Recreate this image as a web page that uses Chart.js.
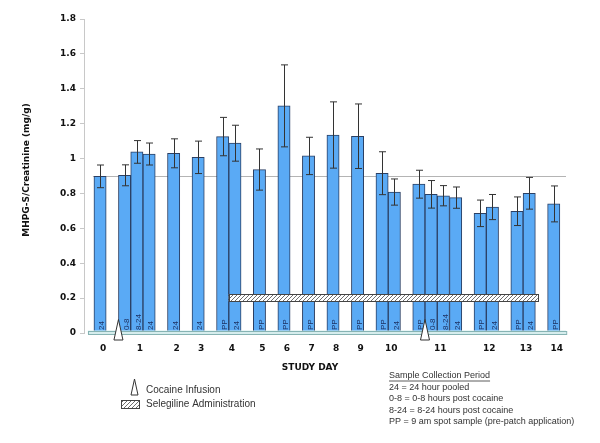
<!DOCTYPE html>
<html>
<head>
<meta charset="utf-8">
<script src="https://cdn.jsdelivr.net/npm/chart.js@4.4.1/dist/chart.umd.min.js"></script>
<style>
	html, body { margin: 0; padding: 0; background: #fff; }
</style>
</head>
<body>
<canvas id="chart" width="600" height="443"></canvas>
<script>
// one entry per bar, in plotting order
const studyDays = [0, 1, 1, 1, 2, 3, 4, 4, 5, 6, 7, 8, 9, 10, 10, 11, 11, 11, 11, 12, 12, 13, 13, 14]
const samples = ["24", "0-8", "8-24", "24", "24", "24", "PP", "24", "PP", "PP", "PP", "PP", "PP", "PP", "24", "PP", "0-8", "8-24", "24", "PP", "24", "PP", "24", "PP"]
const means = [0.898, 0.904, 1.038, 1.026, 1.030, 1.007, 1.126, 1.088, 0.937, 1.302, 1.015, 1.135, 1.128, 0.916, 0.808, 0.853, 0.795, 0.787, 0.776, 0.686, 0.722, 0.698, 0.801, 0.740]
const errors = [0.065, 0.060, 0.065, 0.063, 0.083, 0.093, 0.110, 0.103, 0.118, 0.235, 0.107, 0.190, 0.185, 0.123, 0.075, 0.080, 0.079, 0.058, 0.061, 0.076, 0.072, 0.082, 0.091, 0.103]
const dayLabels = ["0", "1", "2", "3", "4", "5", "6", "7", "8", "9", "10", "11", "12", "13", "14"]
const yTicks = [0, 0.2, 0.4, 0.6, 0.8, 1, 1.2, 1.4, 1.6, 1.8]
const selegilineDays = [4, 13]
const selegilineLevel = [0.182, 0.222]
const sampleNotes = [
	"24 = 24 hour pooled",
	"0-8 = 0-8 hours post cocaine",
	"8-24 = 8-24 hours post cocaine",
	"PP = 9 am spot sample (pre-patch application)",
]

// bars sit side by side within a day, one empty slot between days
const slots = []
studyDays.forEach((d, i) => {
	if (i === 0) slots.push(0)
	else slots.push(slots[i - 1] + (d === studyDays[i - 1] ? 1 : 2))
})
const dayTicks = dayLabels.map((lab) => {
	const s = slots.filter((_, i) => studyDays[i] === +lab)
	return s.reduce((a, b) => a + b, 0) / s.length
})
const infusions = slots.filter((_, i) => samples[i] === "0-8").map((s) => s - 0.5)
const selStart = slots.find((_, i) => studyDays[i] === selegilineDays[0] && samples[i] !== "PP") - 0.5
const selEnd = Math.max(...slots.filter((_, i) => studyDays[i] === selegilineDays[1])) + 0.7

const hatch = (ctx) => {
	const pc = document.createElement("canvas")
	pc.width = 4
	pc.height = 4
	const p = pc.getContext("2d")
	p.fillStyle = "#fff"
	p.fillRect(0, 0, 4, 4)
	p.strokeStyle = "#6f6f6f"
	p.lineWidth = 1
	p.beginPath()
	p.moveTo(0, 4); p.lineTo(4, 0)
	p.moveTo(-1, 1); p.lineTo(1, -1)
	p.moveTo(3, 5); p.lineTo(5, 3)
	p.stroke()
	return ctx.createPattern(pc, "repeat")
}

const triangle = (ctx, cx, top, bottom, half) => {
	ctx.beginPath()
	ctx.moveTo(cx, top)
	ctx.lineTo(cx + half, bottom)
	ctx.lineTo(cx - half, bottom)
	ctx.closePath()
	ctx.fillStyle = "#fff"
	ctx.fill()
	ctx.strokeStyle = "#333"
	ctx.lineWidth = 1
	ctx.stroke()
}

const decor = {
	id: "decor",
	beforeDatasetsDraw(chart) {
		const { ctx, scales: { x, y }, chartArea } = chart
		const yy = Math.round(y.getPixelForValue(means[0])) + 0.5
		ctx.save()
		ctx.strokeStyle = "#b4b4b4"
		ctx.lineWidth = 1
		ctx.beginPath()
		ctx.moveTo(x.getPixelForValue(-0.5) - 1, yy)
		ctx.lineTo(chartArea.right, yy)
		ctx.stroke()
		ctx.restore()
	},
	afterDatasetsDraw(chart) {
		const { ctx, scales: { x, y }, chartArea } = chart
		const y0 = y.getPixelForValue(0)
		ctx.save()

		// error bars
		ctx.strokeStyle = "#333"
		ctx.lineWidth = 1
		slots.forEach((s, i) => {
			const cx = Math.round(x.getPixelForValue(s)) + 0.5
			const hi = y.getPixelForValue(means[i] + errors[i])
			const lo = y.getPixelForValue(means[i] - errors[i])
			ctx.beginPath()
			ctx.moveTo(cx, hi); ctx.lineTo(cx, lo)
			ctx.moveTo(cx - 3.5, hi); ctx.lineTo(cx + 3.5, hi)
			ctx.moveTo(cx - 3.5, lo); ctx.lineTo(cx + 3.5, lo)
			ctx.stroke()
		})

		// sample labels inside bars
		ctx.fillStyle = "#1d3263"
		ctx.font = "8px 'Liberation Sans', Arial, sans-serif"
		ctx.textAlign = "left"
		ctx.textBaseline = "middle"
		slots.forEach((s, i) => {
			ctx.save()
			ctx.translate(x.getPixelForValue(s) + 2, y0 - 3)
			ctx.rotate(-Math.PI / 2)
			ctx.fillText(samples[i], 0, 0)
			ctx.restore()
		})

		// floor band
		const bl = x.getPixelForValue(-1)
		ctx.fillStyle = "#d6eded"
		ctx.fillRect(bl, y0 - 2.5, chartArea.right - bl, 3.5)
		ctx.strokeStyle = "#86b3b3"
		ctx.strokeRect(Math.round(bl) + 0.5, Math.round(y0 - 2.5) + 0.5, chartArea.right - bl, 3)

		// selegiline administration
		const sx1 = x.getPixelForValue(selStart)
		const sx2 = x.getPixelForValue(selEnd)
		const sy1 = y.getPixelForValue(selegilineLevel[1])
		const sy2 = y.getPixelForValue(selegilineLevel[0])
		ctx.fillStyle = hatch(ctx)
		ctx.fillRect(sx1, sy1, sx2 - sx1, sy2 - sy1)
		ctx.strokeStyle = "#444"
		ctx.strokeRect(Math.round(sx1) + 0.5, Math.round(sy1) + 0.5, Math.round(sx2 - sx1), Math.round(sy2 - sy1))

		// cocaine infusions
		infusions.forEach((s) => {
			triangle(ctx, x.getPixelForValue(s), y0 - 13.5, y0 + 7, 4.5)
		})
		ctx.restore()
	},
	afterDraw(chart) {
		const { ctx } = chart
		ctx.save()
		ctx.fillStyle = "#111"
		ctx.font = "bold 9px 'DejaVu Sans', Verdana, sans-serif"
		ctx.textAlign = "center"
		ctx.textBaseline = "middle"
		ctx.fillText("STUDY DAY", 310, 368)
		ctx.save()
		ctx.translate(27, 170)
		ctx.rotate(-Math.PI / 2)
		ctx.fillText("MHPG-S/Creatinine (mg/g)", 0, 0)
		ctx.restore()

		// legend
		triangle(ctx, 134.5, 379, 395, 3.5)
		ctx.fillStyle = hatch(ctx)
		ctx.fillRect(121, 400, 18, 8)
		ctx.strokeStyle = "#444"
		ctx.strokeRect(121.5, 400.5, 18, 8)
		ctx.fillStyle = "#333"
		ctx.font = "10px 'Liberation Sans', Arial, sans-serif"
		ctx.textAlign = "left"
		ctx.fillText("Cocaine Infusion", 146, 390)
		ctx.fillText("Selegiline Administration", 146, 404.5)

		// sample notes
		ctx.font = "9px 'Liberation Sans', Arial, sans-serif"
		const head = "Sample Collection Period"
		ctx.fillText(head, 389, 376)
		const w = ctx.measureText(head).width
		ctx.strokeStyle = "#333"
		ctx.lineWidth = 0.8
		ctx.beginPath()
		ctx.moveTo(389, 381)
		ctx.lineTo(389 + w, 381)
		ctx.stroke()
		sampleNotes.forEach((t, i) => ctx.fillText(t, 389, 387.5 + i * 11.3))
		ctx.restore()
	},
}

new Chart(document.getElementById("chart"), {
	type: "bar",
	data: {
		datasets: [
			{
				data: slots.map((s, i) => ({ x: s, y: means[i] })),
				backgroundColor: "#5aaaf5",
				borderColor: "#2b3f63",
				borderWidth: 1,
				barPercentage: 1,
				categoryPercentage: 1,
			},
		],
	},
	options: {
		responsive: false,
		animation: false,
		layout: { padding: { top: 19, right: 34, left: 0, bottom: 0 } },
		plugins: { legend: { display: false }, tooltip: { enabled: false } },
		scales: {
			x: {
				type: "linear",
				offset: false,
				min: -1.31,
				max: 38,
				grid: { display: false, offset: false },
				border: { display: false },
				afterBuildTicks: (s) => {
					s.ticks = dayTicks.map((v) => ({ value: v }))
				},
				afterFit: (s) => {
					s.height = 110
				},
				ticks: {
					autoSkip: false,
					maxRotation: 0,
					padding: 2,
					labelOffset: 3,
					color: "#111",
					font: { family: "'DejaVu Sans', Verdana, sans-serif", size: 9, weight: "bold" },
					callback: (v, i) => dayLabels[i],
				},
			},
			y: {
				min: 0,
				max: 1.8,
				afterBuildTicks: (s) => {
					s.ticks = yTicks.map((v) => ({ value: v }))
				},
				afterFit: (s) => {
					s.width = 84
				},
				grid: { drawOnChartArea: false, drawTicks: true, tickLength: 4, color: "#c8c8c8" },
				border: { color: "#c8c8c8" },
				ticks: {
					padding: 4,
					color: "#111",
					font: { family: "'DejaVu Sans', Verdana, sans-serif", size: 9, weight: "bold" },
					callback: (v) => String(+v.toFixed(1)),
				},
			},
		},
	},
	plugins: [decor],
})
</script>
</body>
</html>
